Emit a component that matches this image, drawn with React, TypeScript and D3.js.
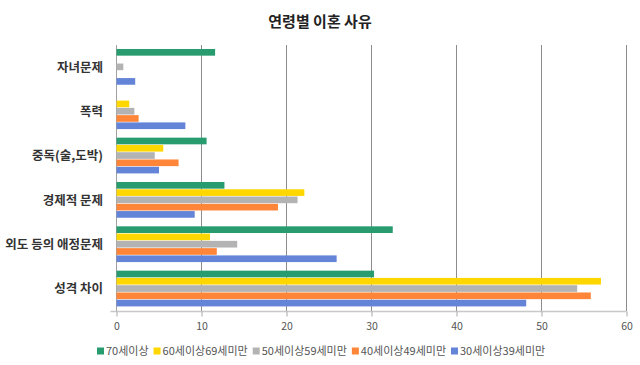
import React, { useEffect, useRef } from "react";
import * as d3 from "d3";

const title = "연령별 이혼 사유";
const categories = ["자녀문제", "폭력", "중독(술,도박)", "경제적 문제", "외도 등의 애정문제", "성격 차이"];
const seriesNames = ["70세이상", "60세이상69세미만", "50세이상59세미만", "40세이상49세미만", "30세이상39세미만"];
const age70 = [11.6, 0, 10.6, 12.7, 32.5, 30.3];
const age60 = [0, 1.5, 5.5, 22.1, 11.0, 57.0];
const age50 = [0.8, 2.1, 4.5, 21.3, 14.2, 54.2];
const age40 = [0, 2.6, 7.3, 19.0, 11.8, 55.8];
const age30 = [2.2, 8.1, 5.0, 9.2, 25.9, 48.2];
const xTicks = [0, 10, 20, 30, 40, 50, 60];
const colors = ["#299c6f", "#ffd700", "#b3b3b3", "#ff8538", "#6484d8"];

const FONT = "'Noto Sans CJK KR', 'Noto Sans', sans-serif";

export default function App() {
  const ref = useRef<SVGSVGElement>(null);

  useEffect(() => {
    const svg = d3.select(ref.current);
    svg.selectAll("*").remove();

    const margin = { top: 45, right: 14, bottom: 54, left: 116 };
    const W = 640, H = 365;
    const w = W - margin.left - margin.right;
    const h = H - margin.top - margin.bottom;
    const series = [age70, age60, age50, age40, age30];

    const x = d3.scaleLinear().domain([0, 60]).range([0, w]);
    const y = d3.scaleBand().domain(categories).range([0, h]).paddingInner(0.18).paddingOuter(0.09);
    const inner = d3.scaleBand().domain(seriesNames).range([0, y.bandwidth()]);

    svg.append("text")
      .attr("x", W / 2)
      .attr("y", 27)
      .attr("text-anchor", "middle")
      .attr("font-family", FONT)
      .attr("font-size", 15)
      .attr("font-weight", 700)
      .attr("fill", "#222")
      .text(title);

    const g = svg.append("g").attr("transform", `translate(${margin.left},${margin.top})`);

    // gridlines
    g.selectAll("line.grid")
      .data(xTicks)
      .join("line")
      .attr("class", "grid")
      .attr("x1", d => x(d) + 0.5)
      .attr("x2", d => x(d) + 0.5)
      .attr("y1", 0)
      .attr("y2", h)
      .attr("stroke", d => (d === 0 ? "#a0a0a0" : "#8c8c8c"))
      .attr("stroke-width", 1);

    // bars
    series.forEach((vals, si) => {
      g.append("g")
        .selectAll("rect")
        .data(categories)
        .join("rect")
        .attr("x", 0.5)
        .attr("y", d => (y(d) as number) + (inner(seriesNames[si]) as number))
        .attr("width", (d, i) => x(vals[i]))
        .attr("height", inner.bandwidth() - 0.6)
        .attr("fill", colors[si]);
    });

    // bottom axis
    const axis = g.append("g")
      .attr("transform", `translate(0.5,${h + 0.5})`)
      .call(d3.axisBottom(x).tickValues(xTicks).tickSize(5).tickPadding(6));
    axis.select(".domain").attr("stroke", "#c8c8c8").attr("stroke-width", 1.5).attr("d", `M-6,0H${w}`);
    axis.selectAll(".tick line").attr("stroke", "#a8a8a8");
    axis.selectAll(".tick text")
      .attr("font-family", FONT)
      .attr("font-size", 10.5)
      .attr("fill", "#555");

    // category labels
    g.selectAll("text.cat")
      .data(categories)
      .join("text")
      .attr("class", "cat")
      .attr("x", -13)
      .attr("y", d => (y(d) as number) + y.bandwidth() / 2)
      .attr("dy", "0.35em")
      .attr("text-anchor", "end")
      .attr("font-family", FONT)
      .attr("font-size", 12.5)
      .attr("font-weight", 700)
      .attr("fill", "#333")
      .text(d => d);

    // legend
    const legend = svg.append("g").attr("transform", `translate(97,351)`);
    let lx = 0;
    seriesNames.forEach((name, i) => {
      const item = legend.append("g").attr("transform", `translate(${lx},0)`);
      item.append("rect").attr("x", 0).attr("y", -3.5).attr("width", 7).attr("height", 7).attr("fill", colors[i]);
      const t = item.append("text")
        .attr("x", 9)
        .attr("dy", "0.35em")
        .attr("font-family", FONT)
        .attr("font-size", 11)
        .attr("fill", "#555")
        .text(name);
      const tw = (t.node() as SVGTextElement).getComputedTextLength();
      lx += 9 + tw + 5;
    });
  }, []);

  return (
    <svg
      ref={ref}
      width={640}
      height={365}
      style={{ position: "absolute", left: 0, top: 0, background: "#fff" }}
    ></svg>
  );
}
